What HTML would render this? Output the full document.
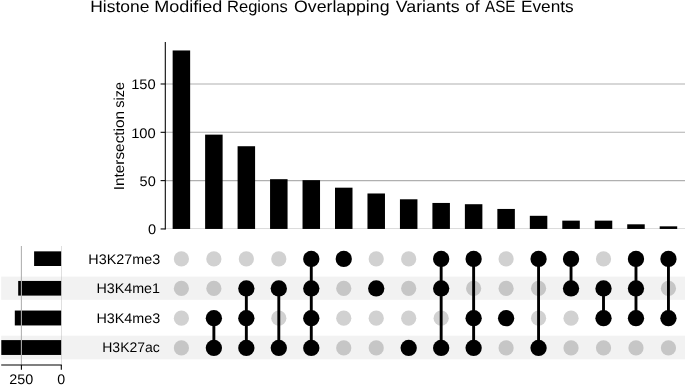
<!DOCTYPE html>
<html><head><meta charset="utf-8"><title>UpSet plot</title>
<style>html,body{margin:0;padding:0;background:#fff;}svg{display:block;will-change:transform;}text{font-family:"Liberation Sans", sans-serif;fill:#000;text-rendering:geometricPrecision;}</style>
</head><body>
<svg width="685" height="385" viewBox="0 0 685 385">
<rect x="0" y="0" width="685" height="385" fill="#fff"/>
<rect x="1.20" y="276.60" width="683.80" height="23.20" fill="#f2f2f2"/>
<rect x="1.20" y="335.70" width="683.80" height="23.60" fill="#f2f2f2"/>
<rect x="165.30" y="228.50" width="519.70" height="0.45" fill="#b0b0b0"/>
<line x1="165.30" y1="180.63" x2="685" y2="180.63" stroke="#b0b0b0" stroke-width="1.07"/>
<line x1="165.30" y1="132.31" x2="685" y2="132.31" stroke="#b0b0b0" stroke-width="1.07"/>
<line x1="165.30" y1="83.99" x2="685" y2="83.99" stroke="#b0b0b0" stroke-width="1.07"/>
<rect x="172.65" y="50.46" width="17.50" height="178.49" fill="#000"/>
<rect x="205.12" y="134.63" width="17.50" height="94.32" fill="#000"/>
<rect x="237.59" y="146.23" width="17.50" height="82.72" fill="#000"/>
<rect x="270.06" y="179.18" width="17.50" height="49.77" fill="#000"/>
<rect x="302.53" y="180.15" width="17.50" height="48.80" fill="#000"/>
<rect x="335.00" y="187.68" width="17.50" height="41.27" fill="#000"/>
<rect x="367.47" y="193.48" width="17.50" height="35.47" fill="#000"/>
<rect x="399.94" y="199.28" width="17.50" height="29.67" fill="#000"/>
<rect x="432.41" y="202.95" width="17.50" height="26.00" fill="#000"/>
<rect x="464.88" y="204.21" width="17.50" height="24.74" fill="#000"/>
<rect x="497.35" y="208.95" width="17.50" height="20.00" fill="#000"/>
<rect x="529.82" y="215.81" width="17.50" height="13.14" fill="#000"/>
<rect x="562.29" y="220.64" width="17.50" height="8.31" fill="#000"/>
<rect x="594.76" y="220.64" width="17.50" height="8.31" fill="#000"/>
<rect x="627.23" y="224.31" width="17.50" height="4.64" fill="#000"/>
<rect x="659.70" y="226.34" width="17.50" height="2.61" fill="#000"/>
<line x1="165.30" y1="42.00" x2="165.30" y2="229.45" stroke="#000" stroke-width="1.07"/>
<line x1="160.60" y1="228.95" x2="165.30" y2="228.95" stroke="#000" stroke-width="1.07"/>
<line x1="160.60" y1="180.63" x2="165.30" y2="180.63" stroke="#000" stroke-width="1.07"/>
<line x1="160.60" y1="132.31" x2="165.30" y2="132.31" stroke="#000" stroke-width="1.07"/>
<line x1="160.60" y1="83.99" x2="165.30" y2="83.99" stroke="#000" stroke-width="1.07"/>
<text x="147.93" y="234.25" font-size="14" textLength="8.14" lengthAdjust="spacingAndGlyphs">0</text>
<text x="139.62" y="186.08" font-size="14" textLength="16.15" lengthAdjust="spacingAndGlyphs">50</text>
<text x="131.18" y="137.61" font-size="14" textLength="24.60" lengthAdjust="spacingAndGlyphs">100</text>
<text x="131.18" y="88.69" font-size="14" textLength="24.60" lengthAdjust="spacingAndGlyphs">150</text>
<text transform="translate(123.55,188.80) rotate(-90)" x="-1.41" y="0" font-size="14.4" textLength="79.21" lengthAdjust="spacingAndGlyphs">Intersection</text>
<text transform="translate(123.55,107.30) rotate(-90)" x="-0.40" y="0" font-size="14.4" textLength="25.64" lengthAdjust="spacingAndGlyphs">size</text>
<text x="90.22" y="12.00" font-size="16.4" textLength="59.21" lengthAdjust="spacingAndGlyphs">Histone</text>
<text x="154.17" y="12.00" font-size="16.4" textLength="68.13" lengthAdjust="spacingAndGlyphs">Modified</text>
<text x="226.99" y="12.00" font-size="16.4" textLength="60.75" lengthAdjust="spacingAndGlyphs">Regions</text>
<text x="294.02" y="12.00" font-size="16.4" textLength="95.47" lengthAdjust="spacingAndGlyphs">Overlapping</text>
<text x="395.76" y="12.00" font-size="16.4" textLength="63.93" lengthAdjust="spacingAndGlyphs">Variants</text>
<text x="465.33" y="12.00" font-size="16.4" textLength="14.30" lengthAdjust="spacingAndGlyphs">of</text>
<text x="485.12" y="12.00" font-size="16.4" textLength="30.38" lengthAdjust="spacingAndGlyphs">ASE</text>
<text x="520.94" y="12.00" font-size="16.4" textLength="52.74" lengthAdjust="spacingAndGlyphs">Events</text>
<circle cx="181.40" cy="258.90" r="7.60" fill="#d1d1d1"/>
<circle cx="181.40" cy="288.40" r="7.60" fill="#c6c6c6"/>
<circle cx="181.40" cy="318.20" r="7.60" fill="#d1d1d1"/>
<circle cx="181.40" cy="347.90" r="7.60" fill="#c6c6c6"/>
<circle cx="213.87" cy="258.90" r="7.60" fill="#d1d1d1"/>
<circle cx="213.87" cy="288.40" r="7.60" fill="#c6c6c6"/>
<circle cx="246.34" cy="258.90" r="7.60" fill="#d1d1d1"/>
<circle cx="278.81" cy="258.90" r="7.60" fill="#d1d1d1"/>
<circle cx="278.81" cy="318.20" r="7.60" fill="#d1d1d1"/>
<circle cx="343.75" cy="288.40" r="7.60" fill="#c6c6c6"/>
<circle cx="343.75" cy="318.20" r="7.60" fill="#d1d1d1"/>
<circle cx="343.75" cy="347.90" r="7.60" fill="#c6c6c6"/>
<circle cx="376.22" cy="258.90" r="7.60" fill="#d1d1d1"/>
<circle cx="376.22" cy="318.20" r="7.60" fill="#d1d1d1"/>
<circle cx="376.22" cy="347.90" r="7.60" fill="#c6c6c6"/>
<circle cx="408.69" cy="258.90" r="7.60" fill="#d1d1d1"/>
<circle cx="408.69" cy="288.40" r="7.60" fill="#c6c6c6"/>
<circle cx="408.69" cy="318.20" r="7.60" fill="#d1d1d1"/>
<circle cx="441.16" cy="318.20" r="7.60" fill="#d1d1d1"/>
<circle cx="473.63" cy="288.40" r="7.60" fill="#c6c6c6"/>
<circle cx="506.10" cy="258.90" r="7.60" fill="#d1d1d1"/>
<circle cx="506.10" cy="288.40" r="7.60" fill="#c6c6c6"/>
<circle cx="506.10" cy="347.90" r="7.60" fill="#c6c6c6"/>
<circle cx="538.57" cy="288.40" r="7.60" fill="#c6c6c6"/>
<circle cx="538.57" cy="318.20" r="7.60" fill="#d1d1d1"/>
<circle cx="571.04" cy="318.20" r="7.60" fill="#d1d1d1"/>
<circle cx="571.04" cy="347.90" r="7.60" fill="#c6c6c6"/>
<circle cx="603.51" cy="258.90" r="7.60" fill="#d1d1d1"/>
<circle cx="603.51" cy="347.90" r="7.60" fill="#c6c6c6"/>
<circle cx="635.98" cy="347.90" r="7.60" fill="#c6c6c6"/>
<circle cx="668.45" cy="288.40" r="7.60" fill="#c6c6c6"/>
<circle cx="668.45" cy="347.90" r="7.60" fill="#c6c6c6"/>
<line x1="213.87" y1="318.20" x2="213.87" y2="347.90" stroke="#000" stroke-width="2.90"/>
<circle cx="213.87" cy="318.20" r="8.15" fill="#000"/>
<circle cx="213.87" cy="347.90" r="8.15" fill="#000"/>
<line x1="246.34" y1="288.40" x2="246.34" y2="347.90" stroke="#000" stroke-width="2.90"/>
<circle cx="246.34" cy="288.40" r="8.15" fill="#000"/>
<circle cx="246.34" cy="318.20" r="8.15" fill="#000"/>
<circle cx="246.34" cy="347.90" r="8.15" fill="#000"/>
<line x1="278.81" y1="288.40" x2="278.81" y2="347.90" stroke="#000" stroke-width="2.90"/>
<circle cx="278.81" cy="288.40" r="8.15" fill="#000"/>
<circle cx="278.81" cy="347.90" r="8.15" fill="#000"/>
<line x1="311.28" y1="258.90" x2="311.28" y2="347.90" stroke="#000" stroke-width="2.90"/>
<circle cx="311.28" cy="258.90" r="8.15" fill="#000"/>
<circle cx="311.28" cy="288.40" r="8.15" fill="#000"/>
<circle cx="311.28" cy="318.20" r="8.15" fill="#000"/>
<circle cx="311.28" cy="347.90" r="8.15" fill="#000"/>
<circle cx="343.75" cy="258.90" r="8.15" fill="#000"/>
<circle cx="376.22" cy="288.40" r="8.15" fill="#000"/>
<circle cx="408.69" cy="347.90" r="8.15" fill="#000"/>
<line x1="441.16" y1="258.90" x2="441.16" y2="347.90" stroke="#000" stroke-width="2.90"/>
<circle cx="441.16" cy="258.90" r="8.15" fill="#000"/>
<circle cx="441.16" cy="288.40" r="8.15" fill="#000"/>
<circle cx="441.16" cy="347.90" r="8.15" fill="#000"/>
<line x1="473.63" y1="258.90" x2="473.63" y2="347.90" stroke="#000" stroke-width="2.90"/>
<circle cx="473.63" cy="258.90" r="8.15" fill="#000"/>
<circle cx="473.63" cy="318.20" r="8.15" fill="#000"/>
<circle cx="473.63" cy="347.90" r="8.15" fill="#000"/>
<circle cx="506.10" cy="318.20" r="8.15" fill="#000"/>
<line x1="538.57" y1="258.90" x2="538.57" y2="347.90" stroke="#000" stroke-width="2.90"/>
<circle cx="538.57" cy="258.90" r="8.15" fill="#000"/>
<circle cx="538.57" cy="347.90" r="8.15" fill="#000"/>
<line x1="571.04" y1="258.90" x2="571.04" y2="288.40" stroke="#000" stroke-width="2.90"/>
<circle cx="571.04" cy="258.90" r="8.15" fill="#000"/>
<circle cx="571.04" cy="288.40" r="8.15" fill="#000"/>
<line x1="603.51" y1="288.40" x2="603.51" y2="318.20" stroke="#000" stroke-width="2.90"/>
<circle cx="603.51" cy="288.40" r="8.15" fill="#000"/>
<circle cx="603.51" cy="318.20" r="8.15" fill="#000"/>
<line x1="635.98" y1="258.90" x2="635.98" y2="318.20" stroke="#000" stroke-width="2.90"/>
<circle cx="635.98" cy="258.90" r="8.15" fill="#000"/>
<circle cx="635.98" cy="288.40" r="8.15" fill="#000"/>
<circle cx="635.98" cy="318.20" r="8.15" fill="#000"/>
<line x1="668.45" y1="258.90" x2="668.45" y2="318.20" stroke="#000" stroke-width="2.90"/>
<circle cx="668.45" cy="258.90" r="8.15" fill="#000"/>
<circle cx="668.45" cy="318.20" r="8.15" fill="#000"/>
<text x="88.32" y="263.50" font-size="14" textLength="71.91" lengthAdjust="spacingAndGlyphs">H3K27me3</text>
<text x="96.43" y="293.10" font-size="14" textLength="63.57" lengthAdjust="spacingAndGlyphs">H3K4me1</text>
<text x="96.42" y="322.70" font-size="14" textLength="63.81" lengthAdjust="spacingAndGlyphs">H3K4me3</text>
<text x="102.25" y="352.30" font-size="14" textLength="57.61" lengthAdjust="spacingAndGlyphs">H3K27ac</text>
<rect x="34.10" y="251.35" width="27.10" height="14.65" fill="#000"/>
<rect x="18.20" y="280.95" width="43.00" height="14.65" fill="#000"/>
<rect x="14.80" y="310.55" width="46.40" height="14.90" fill="#000"/>
<rect x="1.30" y="340.10" width="59.90" height="14.85" fill="#000"/>
<line x1="21.40" y1="246.00" x2="21.40" y2="365.00" stroke="#b0b0b0" stroke-width="1.07"/>
<rect x="61.40" y="246.00" width="0.4" height="119.00" fill="#b0b0b0"/>
<line x1="1.20" y1="365.00" x2="61.80" y2="365.00" stroke="#000" stroke-width="1.07"/>
<line x1="21.40" y1="365.00" x2="21.40" y2="369.70" stroke="#000" stroke-width="1.07"/>
<line x1="61.30" y1="365.00" x2="61.30" y2="369.70" stroke="#000" stroke-width="1.07"/>
<text x="9.28" y="384.00" font-size="14" textLength="23.99" lengthAdjust="spacingAndGlyphs">250</text>
<text x="57.25" y="384.00" font-size="14" textLength="7.91" lengthAdjust="spacingAndGlyphs">0</text>
</svg>
</body></html>
